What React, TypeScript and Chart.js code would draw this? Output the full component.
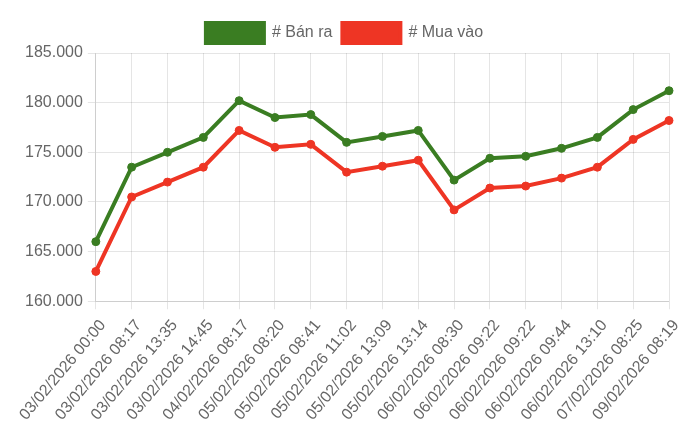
import React, { useEffect, useRef } from 'react';
import { Chart, registerables } from 'chart.js';

Chart.register(...registerables);

const labels = [
  '03/02/2026 00:00', '03/02/2026 08:17', '03/02/2026 13:35', '03/02/2026 14:45',
  '04/02/2026 08:17', '05/02/2026 08:20', '05/02/2026 08:41', '05/02/2026 11:02',
  '05/02/2026 13:09', '05/02/2026 13:14', '06/02/2026 08:30', '06/02/2026 09:22',
  '06/02/2026 09:22', '06/02/2026 09:44', '06/02/2026 13:10', '07/02/2026 08:25',
  '09/02/2026 08:19',
];

const banRa = [
  166000, 173500, 175000, 176500, 180200, 178500, 178800, 176000, 176600,
  177200, 172200, 174400, 174600, 175400, 176500, 179300, 181200,
];

const muaVao = [
  163000, 170500, 172000, 173500, 177200, 175500, 175800, 173000, 173600,
  174200, 169200, 171400, 171600, 172400, 173500, 176300, 178200,
];

const GREEN = '#3a7d22';
const RED = '#ee3524';

// dấu chấm ngăn cách hàng nghìn
function formatVnd(v: number) {
  return String(Math.round(v)).replace(/\B(?=(\d{3})+(?!\d))/g, '.');
}

export default function App() {
  const canvasRef = useRef<HTMLCanvasElement>(null);

  useEffect(() => {
    const canvas = canvasRef.current;
    if (!canvas) return;
    Chart.defaults.font.family = '"Liberation Sans", Arial, Helvetica, sans-serif';
    Chart.defaults.font.size = 16;
    Chart.defaults.color = '#666';

    const chart = new Chart(canvas, {
      type: 'line',
      data: {
        labels,
        datasets: [
          {
            label: '# Bán ra',
            data: banRa,
            borderColor: GREEN,
            backgroundColor: GREEN,
            borderWidth: 4,
            pointRadius: 4,
            pointBorderWidth: 1,
            pointBackgroundColor: GREEN,
            pointBorderColor: GREEN,
            tension: 0,
            fill: false,
          },
          {
            label: '# Mua vào',
            data: muaVao,
            borderColor: RED,
            backgroundColor: RED,
            borderWidth: 4,
            pointRadius: 4,
            pointBorderWidth: 1,
            pointBackgroundColor: RED,
            pointBorderColor: RED,
            tension: 0,
            fill: false,
          },
        ],
      },
      options: {
        animation: false,
        responsive: true,
        maintainAspectRatio: false,
        layout: { padding: { top: 5, right: 23, left: 12, bottom: 2 } },
        plugins: {
          legend: {
            labels: {
              boxWidth: 58,
              boxHeight: 20,
              padding: 10,
            },
          },
          tooltip: { enabled: false },
        },
        scales: {
          x: {
            grid: { color: 'rgba(0,0,0,0.1)' },
            ticks: { maxRotation: 50, minRotation: 50, labelOffset: 7, padding: 7 },
          },
          y: {
            min: 160000,
            max: 185000,
            grid: { color: 'rgba(0,0,0,0.1)' },
            ticks: {
              stepSize: 5000,
              padding: 5,
              callback: (v) => formatVnd(Number(v)),
            },
          },
        },
      },
    });
    return () => {
      chart.destroy();
    };
  }, []);

  return (
    <div style={{ width: 684, height: 425 }}>
      <canvas ref={canvasRef} />
    </div>
  );
}
